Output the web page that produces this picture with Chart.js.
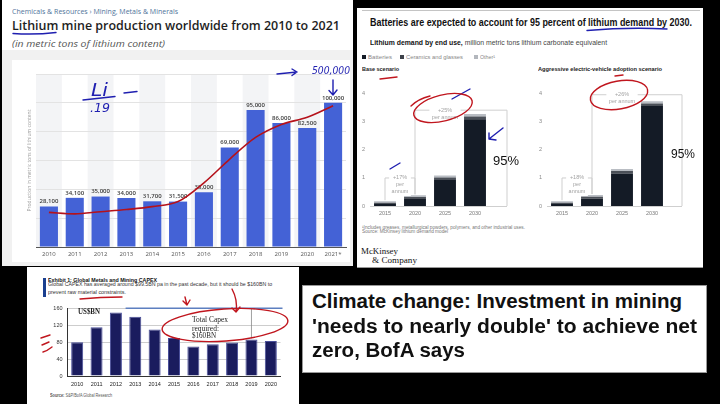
<!DOCTYPE html>
<html>
<head>
<meta charset="utf-8">
<script src="https://cdn.jsdelivr.net/npm/chart.js@4.4.0/dist/chart.umd.min.js"></script>
<style>
  html, body { margin: 0; padding: 0; background: #000; }
  #stage { position: relative; width: 720px; height: 404px; overflow: hidden; background: #000; font-family: 'Liberation Sans', Arial, sans-serif; }
  .panel { position: absolute; background: #fff; }
  .t { position: absolute; white-space: nowrap; line-height: 1; transform-origin: 0 50%; }
  .serif { font-family: 'Liberation Serif', 'DejaVu Serif', serif; }
  .os { font-family: 'Open Sans', sans-serif; }
  .sq { position: absolute; width: 4px; height: 4px; }
  canvas { position: absolute; }
</style>
</head>
<body>
<div id="stage">

  <!-- Statista: lithium mine production -->
  <div class="panel" style="left:2px;top:0;width:351px;height:266px;"></div>
  <div class="panel" style="left:2px;top:50px;width:351px;height:216px;background:#f1f1f1;"></div>
  <div class="panel" style="left:12px;top:60px;width:338px;height:202px;"></div>
  <canvas id="liChart" width="338" height="202" style="left:12px;top:60px;"></canvas>
  <div class="t os" data-w="166" style="left:12px;top:9.3px;font-size:6.8px;color:#50749a;">Chemicals &amp; Resources › Mining, Metals &amp; Minerals</div>
  <div class="t os" data-w="328" style="left:12px;top:20px;font-size:12.5px;font-weight:600;color:#1e1e1e;">Lithium mine production worldwide from 2010 to 2021</div>
  <div class="t os" data-w="153" style="left:12px;top:39px;font-size:9px;font-style:italic;color:#555;">(in metric tons of lithium content)</div>

  <!-- McKinsey: lithium demand -->
  <div class="panel" style="left:357px;top:8px;width:346px;height:260px;"></div>
  <div style="position:absolute;left:362px;top:10px;width:338px;border-top:1px solid #c4c4c4;"></div>
  <div style="position:absolute;left:357px;top:267px;width:346px;border-top:1px solid #999;"></div>
  <canvas id="baseChart" width="170" height="142" style="left:356px;top:80px;"></canvas>
  <canvas id="aggChart" width="170" height="142" style="left:533px;top:80px;"></canvas>
  <div class="t" data-w="322" style="left:370px;top:18.3px;font-size:10px;font-weight:bold;color:#111;">Batteries are expected to account for 95 percent of lithium demand by 2030.</div>
  <div class="t" data-w="237" style="left:370px;top:40.2px;font-size:6.3px;color:#444;"><b style="color:#111">Lithium demand by end use,</b> million metric tons lithium carbonate equivalent</div>
  <div class="sq" style="left:362px;top:55.3px;background:#141b26;"></div>
  <div class="t" data-w="24" style="left:368px;top:54.5px;font-size:5.5px;color:#888;">Batteries</div>
  <div class="sq" style="left:400px;top:55.3px;background:#3d424a;"></div>
  <div class="t" data-w="57" style="left:406px;top:54.5px;font-size:5.5px;color:#888;">Ceramics and glasses</div>
  <div class="sq" style="left:474px;top:55.3px;background:#b3b7bd;"></div>
  <div class="t" data-w="15" style="left:480px;top:54.5px;font-size:5.5px;color:#888;">Other¹</div>
  <div class="t" data-w="37" style="left:362px;top:67px;font-size:5.8px;font-weight:bold;color:#222;">Base scenario</div>
  <div class="t" data-w="124" style="left:538px;top:67px;font-size:5.8px;font-weight:bold;color:#222;">Aggressive electric-vehicle adoption scenario</div>
  <div class="t" data-w="26" style="left:493px;top:154px;font-size:13.5px;color:#111;">95%</div>
  <div class="t" data-w="24" style="left:671px;top:146.5px;font-size:13.5px;color:#111;">95%</div>
  <div class="t" data-w="163" style="left:362px;top:226px;font-size:4.5px;color:#777;">¹Includes greases, metallurgical powders, polymers, and other industrial uses.</div>
  <div class="t" data-w="86" style="left:362px;top:230.3px;font-size:4.5px;color:#777;">Source: McKinsey lithium demand model</div>
  <div class="t serif" data-w="37" style="left:361px;top:247.2px;font-size:9px;color:#111;">McKinsey</div>
  <div class="t serif" data-w="45" style="left:372px;top:255.5px;font-size:9px;color:#111;">&amp; Company</div>

  <!-- BofA: metals and mining capex -->
  <div class="panel" style="left:27px;top:267px;width:272px;height:137px;"></div>
  <canvas id="capexChart" width="262" height="92" style="left:30px;top:300px;"></canvas>
  <div style="position:absolute;left:43px;top:278px;width:2.5px;height:19px;background:#1a3f8f;"></div>
  <div class="t" data-w="109" style="left:48px;top:276.5px;font-size:6px;font-weight:bold;color:#111;">Exhibit 1: Global Metals and Mining CAPEX</div>
  <div class="t" data-w="224" style="left:48px;top:282.4px;font-size:5.3px;color:#333;">Global CAPEX has averaged around $99.5BN pa in the past decade, but it should be $160BN to</div>
  <div class="t" data-w="78" style="left:48px;top:289.7px;font-size:5.3px;color:#333;">prevent raw material constraints.</div>
  <div class="t serif" data-w="22" style="left:78px;top:308.2px;font-size:7.5px;font-weight:bold;color:#222;">US$BN</div>
  <div class="t serif" data-w="36" style="left:192px;top:316.2px;font-size:7.5px;color:#222;">Total Capex</div>
  <div class="t serif" data-w="27" style="left:192px;top:324.5px;font-size:7.5px;color:#222;">required:</div>
  <div class="t serif" data-w="24" style="left:192px;top:332.2px;font-size:7.5px;color:#222;">$160BN</div>
  <div class="t" data-w="62" style="left:50px;top:394.4px;font-size:4.5px;color:#555;"><b>Source:</b> S&amp;P/BofA Global Research</div>

  <!-- headline -->
  <div class="panel" style="left:302px;top:285px;width:403px;height:86px;border:1px solid #999;"></div>
  <div class="t" data-w="370" style="left:312px;top:292.4px;font-size:19.5px;font-weight:bold;color:#111;">Climate change: Investment in mining</div>
  <div class="t" data-w="385" style="left:312px;top:317.4px;font-size:19.5px;font-weight:bold;color:#111;">'needs to nearly double' to achieve net</div>
  <div class="t" data-w="153" style="left:312px;top:341.1px;font-size:19.5px;font-weight:bold;color:#111;">zero, BofA says</div>

  <!-- hand-drawn marks on the screenshot -->
  <svg width="720" height="404" style="position:absolute;left:0;top:0;" fill="none" stroke-linecap="round" stroke-linejoin="round">
    <g stroke="#1f1fb0" stroke-width="1.4">
      <path d="M13 33.5 Q35 35 56 32.5"/>
      <path d="M83 100 L115 96.5"/>
      <path d="M124 93 L137 91.5"/>
      <path d="M277 74 L297 72 M292 69 L297 72 L292 75.5"/>
      <path d="M333 80 L333 95 M329 90.5 L333 95 L337 90"/>
      <path d="M587 30.5 Q628 27 667 29"/>
      <path d="M452 99 L470 89"/>
      <path d="M503 128 L489 139 M489 133 L489 139 L496 140"/>
      <path d="M390 169 L400 163"/>
    </g>
    <g fill="#1f1fb0" font-family="DejaVu Sans" font-style="italic">
      <text x="91" y="96" font-size="17" textLength="17" lengthAdjust="spacingAndGlyphs">Li</text>
      <text x="90" y="112" font-size="12" textLength="20" lengthAdjust="spacingAndGlyphs">.19</text>
      <text x="312" y="74" font-size="11" textLength="38" lengthAdjust="spacingAndGlyphs">500,000</text>
    </g>
    <g stroke="#c0161e" stroke-width="1.4">
      <ellipse cx="443" cy="108" rx="30" ry="13" transform="rotate(-14 443 108)"/>
      <path d="M411 106 Q418 99 430 96"/>
      <ellipse cx="619" cy="95" rx="29" ry="14" transform="rotate(-10 619 95)"/>
      <path d="M380 79 L397 77"/>
      <path d="M615 76 L623 75"/>
      <path d="M80 299 Q100 297 122 297"/>
      <ellipse cx="225" cy="325" rx="63" ry="16" transform="rotate(-4 225 325)"/>
      <path d="M185 297 L187 305 M183 301 L187 305 L190 300"/>
      <path d="M232 289 Q238 300 236 312 M232 308 L236 312 L240 307"/>
      <path d="M41 338 L50 335 M42 345 L49 342 M43 352 Q47 351 52 347"/>
    </g>
  </svg>
</div>

<script>
// ---- Statista: lithium mine production (metric tons) ----
const liYears = ['2010', '2011', '2012', '2013', '2014', '2015', '2016', '2017', '2018', '2019', '2020', '2021*'];
const liProduction = [28100, 34100, 35000, 34000, 31700, 31500, 38000, 69000, 95000, 86000, 82500, 100000];
// red hand-drawn trend curve
const liSketchCurve = [24000, 23000, 24500, 26000, 28000, 31500, 44500, 61000, 76000, 85000, 90000, 98000];
const liAxisTitle = 'Production in metric tons of lithium content';

// ---- McKinsey: lithium demand, million t LCE ----
const mckYears = ['2015', '2020', '2025', '2030'];
const baseBatteries = [0.07, 0.25, 0.93, 3.10];
const baseCeramics  = [0.05, 0.07, 0.09, 0.09];
const baseOther     = [0.05, 0.06, 0.07, 0.09];
const aggBatteries  = [0.07, 0.26, 1.16, 3.57];
const aggCeramics   = [0.05, 0.07, 0.09, 0.09];
const aggOther      = [0.05, 0.06, 0.07, 0.08];
const baseGrowth = [
  { from: 0, to: 1, level: 1.0,  lines: ['+17%', 'per', 'annum'] },
  { from: 1, to: 3, level: 3.42, lines: ['+25%', 'per annum'], edge: true }
];
const aggGrowth = [
  { from: 0, to: 1, level: 1.0,  lines: ['+18%', 'per', 'annum'] },
  { from: 1, to: 3, level: 3.97, lines: ['+26%', 'per annum'], edge: true }
];

// ---- BofA: global metals & mining capex, US$bn ----
const capexYears = ['2010', '2011', '2012', '2013', '2014', '2015', '2016', '2017', '2018', '2019', '2020'];
const capexValues = [80, 115, 150, 140, 110, 90, 70, 75, 79, 86, 83];
const capexRequired = 160;

Chart.defaults.font.family = "'Liberation Sans', Arial, sans-serif";
Chart.defaults.animation = false;

// faint alternating column shading behind the statista bars
const categoryBands = {
  id: 'categoryBands',
  beforeDraw(chart) {
    const { ctx, chartArea, scales: { x } } = chart;
    const w = chartArea.width / x.ticks.length;
    ctx.save();
    ctx.fillStyle = '#f3f4f6';
    x.ticks.forEach((_, i) => {
      if (i % 2 === 0) ctx.fillRect(x.getPixelForTick(i) - w / 2, chartArea.top, w, chartArea.height);
    });
    ctx.restore();
  }
};

// value labels above bars + the rotated axis title close to the plot
const barValueLabels = {
  id: 'barValueLabels',
  afterDatasetDraw(chart, args) {
    if (args.index !== 0) return;
    const { ctx, chartArea } = chart;
    ctx.save();
    ctx.font = "600 6px 'Open Sans'";
    ctx.fillStyle = '#3a3a3a';
    ctx.textAlign = 'center';
    ctx.textBaseline = 'bottom';
    args.meta.data.forEach((bar, i) => {
      ctx.fillText(liProduction[i].toLocaleString('en-US'), bar.x, bar.y - 2);
    });
    ctx.translate(chartArea.left - 6, (chartArea.top + chartArea.bottom) / 2);
    ctx.rotate(-Math.PI / 2);
    ctx.font = "5px 'Open Sans'";
    ctx.fillStyle = '#a0a0a0';
    ctx.textBaseline = 'middle';
    ctx.fillText(liAxisTitle, 0, 0);
    ctx.restore();
  }
};

new Chart(document.getElementById('liChart'), {
  data: {
    labels: liYears,
    datasets: [
      { type: 'bar', label: 'Production', data: liProduction, backgroundColor: '#4462d6', order: 1 },
      { type: 'line', label: 'sketch', data: liSketchCurve, borderColor: '#b5121b', borderWidth: 1.6,
        pointRadius: 0, cubicInterpolationMode: 'monotone', order: 0 }
    ]
  },
  options: {
    responsive: false,
    layout: { padding: { top: 14, right: 4, left: 0, bottom: 0 } },
    datasets: { bar: { barPercentage: 0.7, categoryPercentage: 1 } },
    plugins: { legend: { display: false }, tooltip: { enabled: false } },
    scales: {
      x: {
        grid: { display: false, drawTicks: false },
        border: { color: '#555' },
        ticks: { font: { size: 6, family: "'Open Sans'" }, color: '#555', padding: 4 },
        afterFit(s) { s.height = 15; }
      },
      y: {
        min: 0, max: 120000,
        ticks: { display: false, stepSize: 20000 },
        grid: { color: '#e3e3e3', drawTicks: false },
        border: { display: false },
        afterFit(s) { s.width = 24; }
      }
    }
  },
  plugins: [categoryBands, barValueLabels]
});

// growth brackets drawn on the McKinsey charts
const growthBrackets = {
  id: 'growthBrackets',
  afterDatasetsDraw(chart, args, opts) {
    const { ctx, chartArea, scales: { x, y } } = chart;
    const ds = chart.data.datasets;
    const totals = ds[0].data.map((_, i) => ds.reduce((s, d) => s + d.data[i], 0));
    const edgeX = chartArea.right + opts.edge;
    const y0 = y.getPixelForValue(0);
    ctx.save();
    ctx.strokeStyle = '#cfcfcf';
    ctx.lineWidth = 1;
    ctx.beginPath();
    ctx.moveTo(chartArea.right, y0 + 0.5);
    ctx.lineTo(edgeX, y0 + 0.5);
    ctx.stroke();
    opts.items.forEach(b => {
      const xa = x.getPixelForValue(b.from);
      const xb = x.getPixelForValue(b.to);
      const yl = y.getPixelForValue(b.level);
      const xr = b.edge ? edgeX : xb;
      const yr = b.edge ? y0 : y.getPixelForValue(totals[b.to]) - 1;
      ctx.strokeStyle = '#cfcfcf';
      ctx.beginPath();
      ctx.moveTo(xa, y.getPixelForValue(totals[b.from]) - 1);
      ctx.lineTo(xa, yl);
      ctx.lineTo(xr, yl);
      ctx.lineTo(xr, yr);
      ctx.stroke();
      const cx = (xa + xb) / 2;
      ctx.font = "5.5px 'Liberation Sans'";
      const w = Math.max(...b.lines.map(l => ctx.measureText(l).width)) + 5;
      ctx.fillStyle = '#fff';
      ctx.fillRect(cx - w / 2, yl - 3, w, b.lines.length * 7);
      ctx.fillStyle = '#a3a3a3';
      ctx.textAlign = 'center';
      ctx.textBaseline = 'middle';
      b.lines.forEach((l, i) => ctx.fillText(l, cx, yl + i * 7));
    });
    ctx.restore();
  }
};

function demandChart(id, batteries, ceramics, other, growth, edge) {
  return new Chart(document.getElementById(id), {
    type: 'bar',
    data: {
      labels: mckYears,
      datasets: [
        { label: 'Batteries', data: batteries, backgroundColor: '#141b26' },
        { label: 'Ceramics and glasses', data: ceramics, backgroundColor: '#4b5058' },
        { label: 'Other', data: other, backgroundColor: '#b9bdc3' }
      ]
    },
    options: {
      responsive: false,
      layout: { padding: { top: 3, right: 36, left: 0, bottom: 0 } },
      datasets: { bar: { barPercentage: 0.73, categoryPercentage: 1 } },
      plugins: { legend: { display: false }, tooltip: { enabled: false },
                 growthBrackets: { items: growth, edge } },
      scales: {
        x: {
          stacked: true,
          grid: { display: false, drawTicks: false },
          border: { color: '#cfcfcf' },
          ticks: { font: { size: 5.5 }, color: '#7a7a7a', padding: 4 },
          afterFit(s) { s.height = 16; }
        },
        y: {
          stacked: true, min: 0, max: 4.2,
          ticks: { stepSize: 1, includeBounds: false, font: { size: 5.5 }, color: '#8a8a8a', padding: 5 },
          grid: { display: false, drawTicks: false },
          border: { display: false },
          afterFit(s) { s.width = 14; }
        }
      }
    },
    plugins: [growthBrackets]
  });
}

demandChart('baseChart', baseBatteries, baseCeramics, baseOther, baseGrowth, 17);
demandChart('aggChart', aggBatteries, aggCeramics, aggOther, aggGrowth, 15);

// $160bn requirement line + leader to 2019
const requiredLine = {
  id: 'requiredLine',
  afterDatasetsDraw(chart) {
    const { ctx, chartArea, scales: { x, y } } = chart;
    const yr = y.getPixelForValue(capexRequired);
    ctx.save();
    ctx.strokeStyle = '#5d7fc0';
    ctx.lineWidth = 1.6;
    ctx.beginPath();
    ctx.moveTo((x.getPixelForValue(2) + x.getPixelForValue(3)) / 2, yr);
    ctx.lineTo(chartArea.right + 2, yr);
    ctx.stroke();
    ctx.strokeStyle = '#888';
    ctx.lineWidth = 0.8;
    ctx.beginPath();
    ctx.moveTo(x.getPixelForValue(9), yr);
    ctx.lineTo(x.getPixelForValue(9), y.getPixelForValue(capexValues[9] + 3));
    ctx.stroke();
    ctx.restore();
  }
};

new Chart(document.getElementById('capexChart'), {
  type: 'bar',
  data: {
    labels: capexYears,
    datasets: [{ label: 'Capex', data: capexValues, backgroundColor: '#1a1c5e', borderColor: '#4a4f9a', borderWidth: 1 }]
  },
  options: {
    responsive: false,
    layout: { padding: { top: 6, right: 11.5, left: 0, bottom: 0 } },
    datasets: { bar: { barPercentage: 0.62, categoryPercentage: 1 } },
    plugins: { legend: { display: false }, tooltip: { enabled: false } },
    scales: {
      x: {
        grid: { display: false, drawTicks: false },
        border: { color: '#333' },
        ticks: { font: { size: 5.5 }, color: '#222', padding: 5 },
        afterFit(s) { s.height = 16; }
      },
      y: {
        min: 0, max: 160,
        ticks: { stepSize: 20, font: { size: 5.5 }, color: '#333', padding: 5 },
        grid: { color: '#cdcdcd', drawTicks: false },
        border: { color: '#333' },
        afterFit(s) { s.width = 37.5; }
      }
    }
  },
  plugins: [requiredLine]
});

// squeeze each text block to the width it has in the screenshot
document.querySelectorAll('[data-w]').forEach(el => {
  const w = el.getBoundingClientRect().width;
  if (w > 0) el.style.transform = 'scaleX(' + (Number(el.dataset.w) / w).toFixed(3) + ')';
});
</script>
</body>
</html>
